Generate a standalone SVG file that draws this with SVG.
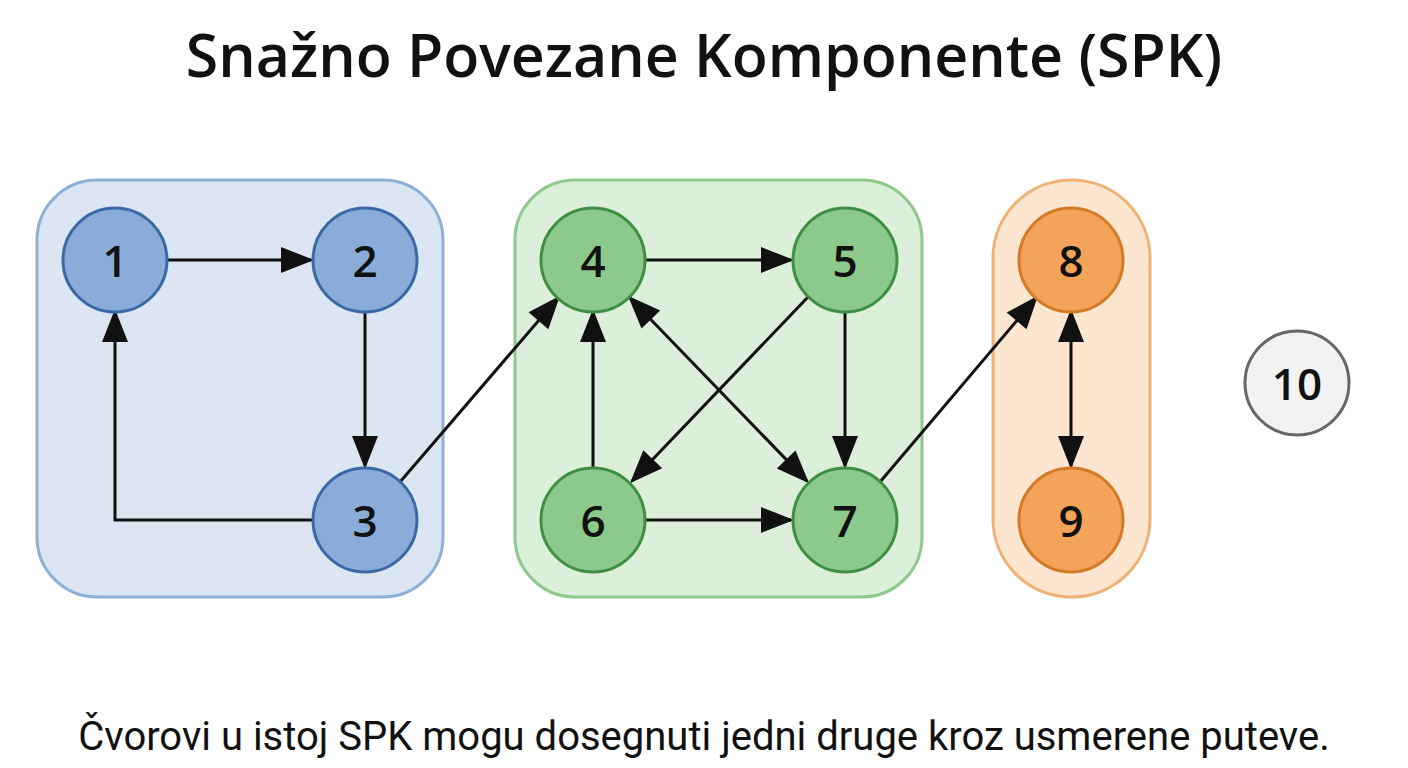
<svg xmlns="http://www.w3.org/2000/svg" width="1408" height="768" viewBox="0 0 1408 768">
<style>
.t{font-family:"Open Sans","Noto Sans",sans-serif;font-weight:600;font-size:59px;fill:#111}
.f{font-family:Roboto,"Liberation Sans",sans-serif;font-size:40px;fill:#111}
.n{font-family:"Open Sans","Noto Sans",sans-serif;font-size:44px;font-weight:600;fill:#111;text-anchor:middle;dominant-baseline:central}
.b{fill:#89acd9;stroke:#3a6aa6;stroke-width:3}
.g{fill:#8cc98a;stroke:#3f8f42;stroke-width:3}
.o{fill:#f4a45a;stroke:#d47a25;stroke-width:3}
.e{stroke:#111;stroke-width:3;fill:none;marker-end:url(#a)}
.d{marker-start:url(#s)}
</style>
<defs>
<marker id="a" markerWidth="1" markerHeight="1" refX="0" refY="0" markerUnits="userSpaceOnUse" orient="auto" style="overflow:visible"><path d="M-30,-13 L3,0 L-30,13 Z" fill="#111"/></marker>
<marker id="s" markerWidth="1" markerHeight="1" refX="0" refY="0" markerUnits="userSpaceOnUse" orient="auto" style="overflow:visible"><path d="M30,-13 L-3,0 L30,13 Z" fill="#111"/></marker>
</defs>
<rect width="1408" height="768" fill="#fff"/>
<text class="t" x="704" y="77" text-anchor="middle">Snažno Povezane Komponente (SPK)</text>
<g id="groups">
<rect x="37" y="180" width="406" height="417" rx="60" fill="#dce6f3" stroke="#8fb0d6" stroke-width="3"/>
<rect x="515" y="180" width="407" height="417" rx="60" fill="#dcefda" stroke="#8cc98a" stroke-width="3"/>
<rect x="993" y="180" width="157" height="417" rx="78" fill="#fde6cf" stroke="#f0b274" stroke-width="3"/>
</g>
<g id="connectors">
<line class="e" x1="167" y1="260" x2="311" y2="260"/>
<line class="e" x1="365" y1="312" x2="365" y2="466"/>
<polyline class="e" points="313,520 115,520 115,312"/>
<line class="e" x1="400" y1="482" x2="558" y2="298"/>
<line class="e" x1="645" y1="260" x2="791" y2="260"/>
<line class="e d" x1="630" y1="298" x2="807" y2="481"/>
<line class="e" x1="808" y1="297" x2="632" y2="481"/>
<line class="e" x1="845" y1="312" x2="845" y2="466"/>
<line class="e" x1="593" y1="468" x2="593" y2="312"/>
<line class="e" x1="645" y1="520" x2="791" y2="520"/>
<line class="e" x1="880" y1="482" x2="1036" y2="298"/>
<line class="e d" x1="1071" y1="312" x2="1071" y2="466"/>
</g>
<g id="n1"><circle class="b" cx="115" cy="260" r="52"/><text class="n" x="115" y="260">1</text></g>
<g id="n2"><circle class="b" cx="365" cy="260" r="52"/><text class="n" x="365" y="260">2</text></g>
<g id="n3"><circle class="b" cx="365" cy="520" r="52"/><text class="n" x="365" y="520">3</text></g>
<g id="n4"><circle class="g" cx="593" cy="260" r="52"/><text class="n" x="593" y="260">4</text></g>
<g id="n5"><circle class="g" cx="845" cy="260" r="52"/><text class="n" x="845" y="260">5</text></g>
<g id="n6"><circle class="g" cx="593" cy="520" r="52"/><text class="n" x="593" y="520">6</text></g>
<g id="n7"><circle class="g" cx="845" cy="520" r="52"/><text class="n" x="845" y="520">7</text></g>
<g id="n8"><circle class="o" cx="1071" cy="260" r="52"/><text class="n" x="1071" y="260">8</text></g>
<g id="n9"><circle class="o" cx="1071" cy="520" r="52"/><text class="n" x="1071" y="520">9</text></g>
<g id="n10"><circle cx="1297" cy="383" r="52" fill="#f2f2f2" stroke="#666" stroke-width="3"/><text class="n" x="1297" y="383">10</text></g>
<text class="f" x="704" y="750" text-anchor="middle">Čvorovi u istoj SPK mogu dosegnuti jedni druge kroz usmerene puteve.</text>
</svg>
